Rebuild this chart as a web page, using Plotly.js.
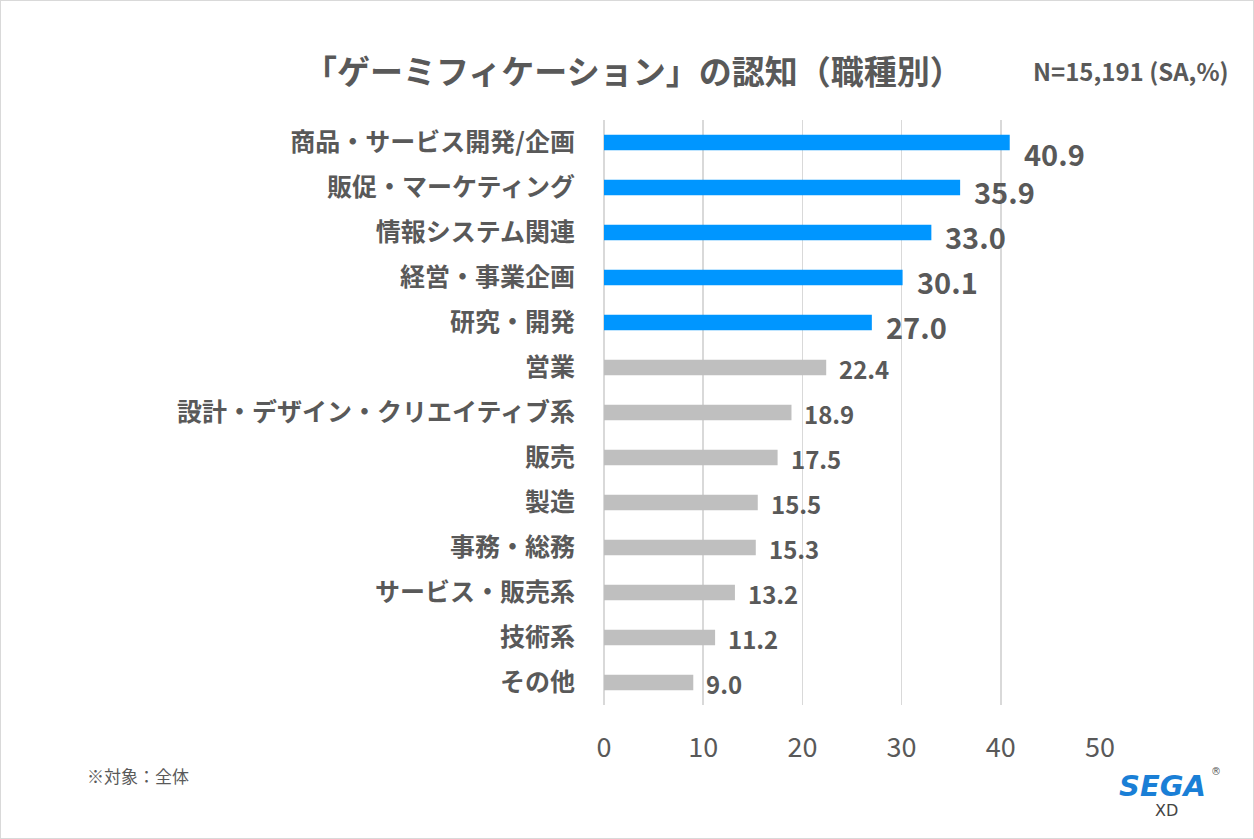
<!DOCTYPE html>
<html><head><meta charset="utf-8">
<script src="https://cdn.plot.ly/plotly-3.0.1.min.js"></script>
<style>
html,body{margin:0;padding:0;background:#fff;}
#chart{width:1254px;height:839px;box-sizing:border-box;border:1px solid #d9d9d9;}
</style></head><body>
<div id="chart"></div>
<script>
const categories = ["商品・サービス開発/企画","販促・マーケティング","情報システム関連","経営・事業企画","研究・開発","営業","設計・デザイン・クリエイティブ系","販売","製造","事務・総務","サービス・販売系","技術系","その他"];
const values = [40.9,35.9,33.0,30.1,27.0,22.4,18.9,17.5,15.5,15.3,13.2,11.2,9.0];
const highlighted = [true,true,true,true,true,false,false,false,false,false,false,false,false];
const tickValues = [0,10,20,30,40,50];

const FONT = '"Noto Sans CJK JP","Noto Sans",sans-serif';
const TXT = '#595959';

const colors = highlighted.map(h => h ? '#0096FF' : '#BFBFBF');

const annotations = values.map((v,i)=>({
  x: v, y: categories[i], xref:'x', yref:'y',
  text: '<b>'+v.toFixed(1)+'</b>',
  showarrow:false, xanchor:'left', yanchor:'middle',
  xshift: highlighted[i] ? 12 : 11,
  yshift: i === 0 ? -10 : (highlighted[i] ? -3 : -1),
  font:{family:FONT, size: highlighted[i] ? 29 : 24, color:TXT}
}));

annotations.push({
  xref:'paper', yref:'paper', x:(633-604)/496, y:1+(120-70)/585, xanchor:'center', yanchor:'middle',
  text:'<b>「ゲーミフィケーション」の認知（職種別）</b>', showarrow:false,
  font:{family:FONT,size:33,color:TXT}
});
annotations.push({
  xref:'paper', yref:'paper', x:(1231-604)/496, y:1+(120-70)/585, xanchor:'right', yanchor:'middle',
  text:'<b>N=15,191 (SA,%)</b>', showarrow:false,
  font:{family:FONT,size:24,color:TXT}
});
annotations.push({
  xref:'paper', yref:'paper', x:(85-604)/496, y:1-(775-120)/585, xanchor:'left', yanchor:'middle',
  text:'※対象：全体', showarrow:false,
  font:{family:FONT,size:17,color:TXT}
});
annotations.push({
  xref:'paper', yref:'paper', x:(1162-604)/496, y:1-(786-120)/585, xanchor:'center', yanchor:'middle',
  text:'<b><i>SEGA</i></b>', showarrow:false,
  font:{family:'"DejaVu Sans",sans-serif',size:29,color:'#1a7fd6'}
});
annotations.push({
  xref:'paper', yref:'paper', x:(1216-604)/496, y:1-(771-120)/585, xanchor:'center', yanchor:'middle',
  text:'®', showarrow:false,
  font:{family:'"DejaVu Sans",sans-serif',size:10,color:'#555'}
});
annotations.push({
  xref:'paper', yref:'paper', x:(1166-604)/496, y:1-(810-120)/585, xanchor:'center', yanchor:'middle',
  text:'XD', showarrow:false,
  font:{family:'"DejaVu Sans",sans-serif',size:16,color:'#444'}
});

const trace = {
  type:'bar', orientation:'h',
  x: values, y: categories,
  marker:{color:colors},
  width:0.34,
  hoverinfo:'none'
};

const layout = {
  width:1252, height:837,
  margin:{l:603, r:153, t:119, b:133, pad:0},
  paper_bgcolor:'#fff', plot_bgcolor:'#fff',
  showlegend:false,
  xaxis:{
    range:[0,50], tickvals:tickValues, ticktext:tickValues.map(String),
    showgrid:true, gridcolor:'#d9d9d9', gridwidth:1.5,
    zeroline:true, zerolinecolor:'#d9d9d9', zerolinewidth:1.5,
    showline:false, ticks:'', ticklabelstandoff:24, automargin:false,
    tickfont:{family:FONT,size:27,color:TXT}, fixedrange:true
  },
  yaxis:{
    type:'category', categoryorder:'array', categoryarray:categories,
    range:[12.5,-0.5], autorange:false, showgrid:false, zeroline:false, showline:false,
    ticks:'', ticklabelstandoff:28, automargin:false,
    tickfont:{family:FONT,size:25,color:TXT,weight:'bold'}
  },
  annotations:annotations
};

Plotly.newPlot('chart',[trace],layout,{displayModeBar:false,staticPlot:true});
</script>
</body></html>
